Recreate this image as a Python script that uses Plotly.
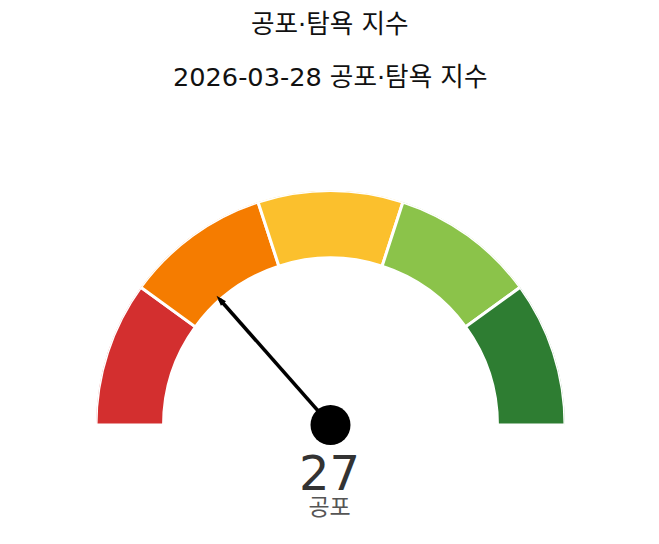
import numpy as np
import plotly.graph_objects as go

# 공포·탐욕 구간 (0~100)
band_start = [0, 20, 40, 60, 80]
band_end = [20, 40, 60, 80, 100]
band_colors = ['#d32f2f', '#f57c00', '#fbc02d', '#8bc34a', '#2e7d32']

index_value = 27
index_label = '공포'
index_date = '2026-03-28'

hole = 0.712
needle_len = 0.735

W, H = 643, 528

# 0~100 -> 0~180도
to_deg = lambda v: np.array(v, dtype=float) * 1.8
theta_mid = (to_deg(band_start) + to_deg(band_end)) / 2
theta_width = to_deg(band_end) - to_deg(band_start)

fig = go.Figure()
fig.add_trace(go.Barpolar(
    theta=theta_mid, width=theta_width,
    r=[1 - hole] * len(band_start), base=hole,
    marker=dict(color=band_colors, line=dict(color='white', width=3)),
    hoverinfo='skip', showlegend=False,
))

needle_theta = float(to_deg(index_value))
fig.add_trace(go.Scatterpolar(
    r=[0, needle_len - 0.02], theta=[needle_theta, needle_theta],
    mode='lines', line=dict(color='black', width=3.5),
    hoverinfo='skip', showlegend=False,
))
fig.add_trace(go.Scatterpolar(
    r=[needle_len], theta=[needle_theta], mode='markers',
    marker=dict(symbol='arrow', size=11, color='black', angle=needle_theta - 90),
    hoverinfo='skip', showlegend=False,
))
fig.add_trace(go.Scatterpolar(
    r=[0], theta=[0], mode='markers',
    marker=dict(size=40, color='black'),
    hoverinfo='skip', showlegend=False,
))


def ann(text, y_px, size, color):
    return dict(text=text, x=0.5, y=1 - y_px / H, xref='paper', yref='paper',
                xanchor='center', yanchor='middle', showarrow=False,
                font=dict(size=size, color=color))


value_text = (f"<span style='font-size:48px;color:#333'>{index_value}</span><br>"
              f"<span style='font-size:23px;color:#555'>{index_label}</span>")

fig.update_layout(
    width=W, height=H,
    margin=dict(l=0, r=0, t=0, b=0),
    paper_bgcolor='white',
    font=dict(family='"DejaVu Sans", "Noto Sans CJK KR", sans-serif'),
    polar=dict(
        domain=dict(x=[88 / W, 557 / W], y=[1 - 417 / H, 1 - 182.5 / H]),
        sector=[0, 180],
        bgcolor='white',
        angularaxis=dict(rotation=180, direction='clockwise', visible=False),
        radialaxis=dict(range=[0, 1], visible=False),
    ),
    annotations=[
        ann('공포·탐욕 지수', 16, 25.6, '#111'),
        ann(f'{index_date} 공포·탐욕 지수', 69, 25.6, '#111'),
        ann(value_text, 474, 19, '#333'),
    ],
)

fig.write_html('out.html')
